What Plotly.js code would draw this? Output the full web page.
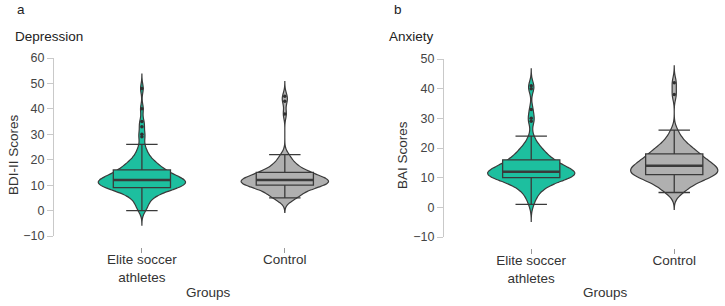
<!DOCTYPE html>
<html>
<head>
<meta charset="utf-8">
<script src="https://cdn.plot.ly/plotly-3.0.1.min.js"></script>
<style>
  html, body { margin: 0; padding: 0; background: #fff; }
  #chart { width: 725px; height: 306px; }
</style>
</head>
<body>
<div id="chart"></div>
<script>
// Group labels on the category axis
const groups = ['Elite soccer<br>athletes', 'Control'];

// Depression (BDI-II) scores per participant
const bdiAthletes = [
  0, 1, 2, 3, 4, 5, 5, 6, 6, 7, 7, 7, 8, 8, 8, 8,
  9, 9, 9, 9, 9, 9, 9, 10, 10, 10, 10, 10, 10, 10,
  11, 11, 11, 11, 11, 11, 11, 11, 11, 12, 12, 12, 12, 12, 12, 12, 12,
  13, 13, 13, 13, 13, 13, 14, 14, 14, 14, 14, 15, 15, 15, 15,
  16, 16, 16, 16, 17, 17, 17, 18, 18, 18, 19, 19, 20, 20,
  21, 22, 23, 24, 26, 29, 30, 33, 35, 40, 48
];
const bdiControl = [
  5, 5, 5, 5, 6, 6, 7, 7, 8, 8, 8, 9, 9, 9,
  10, 10, 10, 10, 10, 10, 10, 11, 11, 11, 11, 11, 11, 11, 11, 11,
  12, 12, 12, 12, 12, 12, 12, 12, 13, 13, 13, 13, 13, 14, 14, 14, 14,
  15, 15, 15, 15, 15, 16, 16, 17, 17, 18, 18, 19, 20, 21, 22, 38, 43, 45
];

// Anxiety (BAI) scores per participant
const baiAthletes = [
  1, 3, 4, 5, 6, 6, 7, 7, 8, 8, 8, 9, 9, 9, 9,
  10, 10, 10, 10, 10, 10, 10, 11, 11, 11, 11, 11, 11, 11, 11, 11,
  12, 12, 12, 12, 12, 12, 12, 12, 12, 13, 13, 13, 13, 13, 13,
  14, 14, 14, 14, 15, 15, 15, 15, 16, 16, 16, 16, 17, 17, 17,
  18, 18, 19, 19, 20, 20, 21, 22, 24, 29, 30, 33, 40, 41
];
const baiControl = [
  5, 5, 6, 7, 7, 8, 8, 9, 9, 9, 10, 10, 10, 10,
  11, 11, 11, 11, 11, 11, 12, 12, 12, 12, 12, 12, 13, 13, 13, 13, 13,
  14, 14, 14, 14, 14, 15, 15, 15, 15, 16, 16, 16, 16, 16, 17,
  18, 18, 18, 18, 18, 19, 19, 20, 20, 21, 21, 22, 23, 24, 26, 38, 42
];

const teal = '#1dbf9f';
const grey = '#b0b0b0';
const ink = '#3a3a3a';
const W = 725, H = 306;
const BW = 1.9;   // kernel bandwidth (score units)

// median with linear interpolation (same rule as the box trace)
function median(arr) {
  const s = arr.slice().sort((a, b) => a - b);
  const p = (s.length - 1) * 0.5;
  const lo = Math.floor(p), hi = Math.ceil(p);
  return s[lo] + (s[hi] - s[lo]) * (p - lo);
}

function groupTraces(values, cat, color, ax) {
  const xa = 'x' + (ax === 1 ? '' : ax), ya = 'y' + (ax === 1 ? '' : ax);
  const m = median(values);
  const lo = Math.min.apply(null, values), hi = Math.max.apply(null, values);
  return [
    {
      type: 'violin', x0: cat, y: values, xaxis: xa, yaxis: ya,
      fillcolor: color, opacity: 1,
      line: { color: ink, width: 1.2 },
      points: false, box: { visible: false }, meanline: { visible: false },
      scalemode: 'width', width: 0.61, bandwidth: BW,
      spanmode: 'manual', span: [lo - 3 * BW, hi + 3 * BW],
      hoverinfo: 'skip', showlegend: false
    },
    {
      type: 'box', x0: cat, y: values, xaxis: xa, yaxis: ya,
      boxpoints: 'outliers', fillcolor: color,
      line: { color: ink, width: 1.3 },
      marker: { color: '#2f2f2f', size: 3.5 },
      whiskerwidth: 0.55, width: 0.4,
      hoverinfo: 'skip', showlegend: false
    },
    {
      // heavier median bar on top of the box
      type: 'box', x: [cat], xaxis: xa, yaxis: ya,
      q1: [m], median: [m], q3: [m], lowerfence: [m], upperfence: [m],
      fillcolor: 'rgba(0,0,0,0)', line: { color: ink, width: 2.6 },
      whiskerwidth: 0, width: 0.4,
      hoverinfo: 'skip', showlegend: false
    }
  ];
}

const data = [].concat(
  groupTraces(bdiAthletes, groups[0], teal, 1),
  groupTraces(bdiControl, groups[1], grey, 1),
  groupTraces(baiAthletes, groups[0], teal, 2),
  groupTraces(baiControl, groups[1], grey, 2)
);

const font = { family: '"Liberation Sans", Arial, sans-serif', color: '#333' };

function yAxis(domainTop, domainBottom, range, anchor) {
  return {
    domain: [1 - domainBottom / H, 1 - domainTop / H],
    range: range, dtick: 10, anchor: anchor,
    showline: true, linecolor: '#c9c9c9', linewidth: 1,
    ticks: 'outside', ticklen: 6, tickcolor: '#c9c9c9',
    tickfont: { size: 12.5, color: '#444' },
    showgrid: false, zeroline: false, fixedrange: true
  };
}
function xAxis(left, right, range, pos) {
  return {
    domain: [left / W, right / W], range: range,
    type: 'category', categoryorder: 'array', categoryarray: groups,
    anchor: 'free', position: 1 - pos / H,
    showline: false, ticks: 'outside', ticklen: 5, tickcolor: '#9a9a9a',
    ticklabelstandoff: -5,
    tickfont: { size: 13.5, color: '#333' },
    showgrid: false, zeroline: false, fixedrange: true
  };
}

function label(text, px, py, opts) {
  return Object.assign({
    text: text, xref: 'paper', yref: 'paper',
    x: px / W, y: 1 - py / H, showarrow: false,
    xanchor: 'left', yanchor: 'middle',
    font: { size: 13.5, color: '#222' }
  }, opts || {});
}

const layout = {
  width: W, height: H,
  margin: { l: 0, r: 0, t: 0, b: 0 },
  paper_bgcolor: '#fff', plot_bgcolor: '#fff',
  font: font,
  showlegend: false,
  violinmode: 'overlay', boxmode: 'overlay',
  xaxis: xAxis(54, 362, [-0.615, 1.54], 247),
  yaxis: yAxis(58, 236, [-10, 60], 'x'),
  xaxis2: xAxis(444, 721, [-0.61, 1.327], 248),
  yaxis2: yAxis(59, 237, [-10, 50], 'x2'),
  annotations: [
    label('a', 15, 10),
    label('Depression', 13, 36),
    label('b', 392, 10),
    label('Anxiety', 387, 36),
    label('BDI-II Scores', 13, 155, { xanchor: 'center', textangle: -90, font: { size: 13.5, color: '#333' } }),
    label('BAI Scores', 402, 155, { xanchor: 'center', textangle: -90, font: { size: 13.5, color: '#333' } }),
    label('Groups', 208, 292, { xanchor: 'center', font: { size: 13.5, color: '#333' } }),
    label('Groups', 605, 292, { xanchor: 'center', font: { size: 13.5, color: '#333' } })
  ]
};

Plotly.newPlot('chart', data, layout, { staticPlot: true, displayModeBar: false });
</script>
</body>
</html>
